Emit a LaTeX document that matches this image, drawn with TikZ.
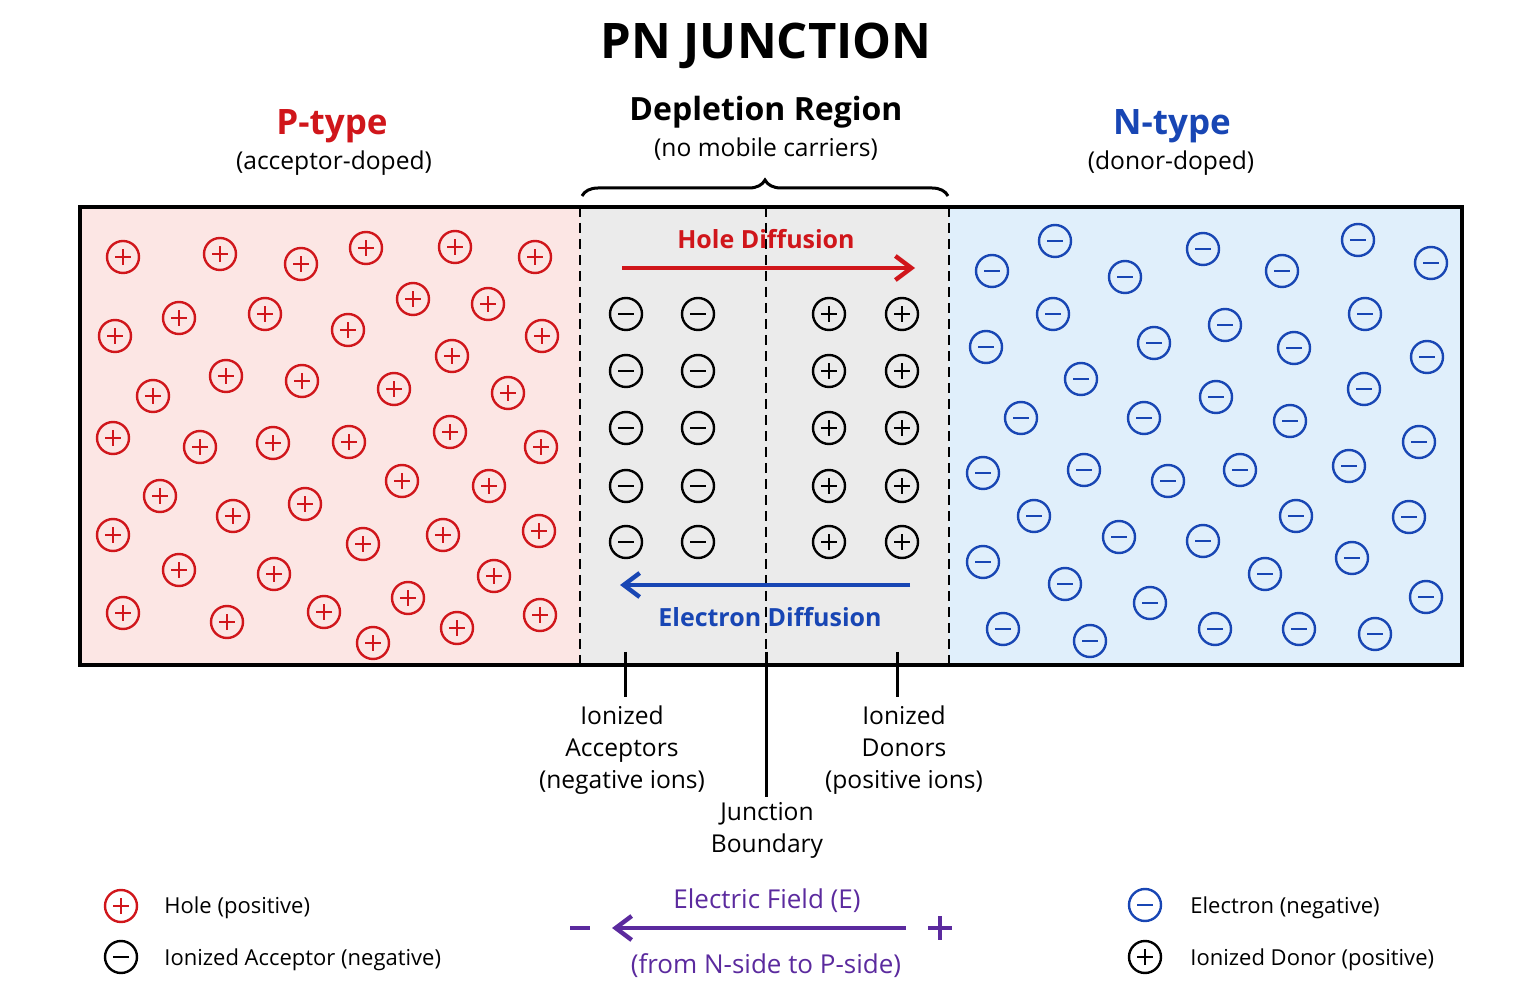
\documentclass[tikz,border=0pt]{standalone}
\usepackage{fontspec}
\setmainfont{Open Sans}
\usetikzlibrary{decorations.pathreplacing,arrows.meta}
\definecolor{pred}{HTML}{D0161B}
\definecolor{nblue}{HTML}{1846B4}
\definecolor{efp}{HTML}{5B2A9E}
\definecolor{pbg}{HTML}{FCE6E4}
\definecolor{nbg}{HTML}{E0EFFB}
\definecolor{dbg}{HTML}{EBEBEB}
\tikzset{
  x=0.5pt,y=-0.5pt,
  chg/.style={circle,draw=#1,line width=1.2pt,minimum size=16pt,inner sep=0pt},
  hole/.pic={\node[chg=pred]{}; \draw[pred,line width=1.4pt](-4pt,0)--(4pt,0)(0,-4pt)--(0,4pt);},
  elec/.pic={\node[chg=nblue]{}; \draw[nblue,line width=1.4pt](-4pt,0)--(4pt,0);},
  acc/.pic={\node[chg=black]{}; \draw[line width=1.4pt](-4pt,0)--(4pt,0);},
  don/.pic={\node[chg=black]{}; \draw[line width=1.4pt](-4pt,0)--(4pt,0)(0,-4pt)--(0,4pt);},
  lbl/.style={font=\fontsize{12.3}{16}\selectfont,align=center,inner sep=0pt},
  leg/.style={font=\fontsize{11}{14}\selectfont,anchor=west,inner sep=0pt},
}
\begin{document}
\begin{tikzpicture}
\useasboundingbox (0,0) rectangle (1536,1004);
\fill[pbg] (80,207) rectangle (580,665);
\fill[dbg] (580,207) rectangle (949,665);
\fill[nbg] (949,207) rectangle (1462,665);
\draw[line width=1.6pt] (80,207) rectangle (1462,665);
\draw[line width=1.3pt,dash pattern=on 5pt off 3pt] (580,207)--(580,665) (949,207)--(949,665) (766,207)--(766,652);
\node[font=\fontsize{24.5}{30}\selectfont\bfseries] (title) at (766,46) {PN JUNCTION};
\node[font=\fontsize{17.5}{22}\selectfont\bfseries,text=pred] (pt) at (332,126) {P-type};
\node[lbl] (ptd) at (334,163) {(acceptor-doped)};
\node[font=\fontsize{17.5}{22}\selectfont\bfseries,text=nblue] (nt) at (1172,126) {N-type};
\node[lbl] (ntd) at (1171,163) {(donor-doped)};
\node[font=\fontsize{16}{20}\selectfont\bfseries] (dr) at (766,112) {Depletion Region};
\node[lbl] (drd) at (766,149) {(no mobile carriers)};
\draw[line width=1.5pt,decorate,decoration={brace,amplitude=8pt}] (582,196)--(948,196);
\foreach \p in {(123,257),(220,254),(301,264),(366,248),(455,247),(535,257),
(413,299),(488,304),(179,318),(265,314),(348,330),(115,336),(542,336),
(452,356),(226,376),(302,381),(394,389),(153,396),(508,393),
(113,438),(200,447),(273,443),(349,442),(450,432),(541,447),
(402,481),(489,486),(160,496),(233,516),(305,504),
(113,535),(363,544),(443,535),(539,531),
(179,570),(274,574),(494,576),
(123,613),(227,622),(324,612),(408,598),(457,628),(540,615),(373,643)}
  \pic at \p {hole};
\foreach \p in {(1055,241),(1203,249),(1358,240),(992,271),(1125,277),(1282,271),(1431,263),
(1053,314),(1225,325),(1365,314),(986,347),(1154,343),(1294,348),(1427,357),
(1081,379),(1216,397),(1364,389),(1021,418),(1144,418),(1290,421),(1419,442),
(983,473),(1084,470),(1168,481),(1240,470),(1349,466),
(1034,516),(1119,537),(1203,541),(1296,516),(1409,517),
(983,562),(1065,584),(1265,574),(1352,558),(1150,603),(1426,597),
(1003,629),(1090,641),(1215,629),(1299,629),(1375,634)}
  \pic at \p {elec};
\foreach \y in {314,371,428,486,542}{
  \pic at (626,\y) {acc}; \pic at (698,\y) {acc};
  \pic at (829,\y) {don}; \pic at (902,\y) {don};}
\node[font=\fontsize{12.5}{16}\selectfont\bfseries,text=pred] (hd) at (766,239) {Hole Diffusion};
\coordinate (ha) at (622,268); \coordinate (hb) at (915,268);
\draw[pred,line width=2.2pt,-{Straight Barb[length=8pt,width=12pt]}] (ha)--(hb);
\coordinate (ea) at (910,585); \coordinate (eb) at (620,585);
\draw[nblue,line width=2.2pt,-{Straight Barb[length=8pt,width=12pt]}] (ea)--(eb);
\node[font=\fontsize{12.5}{16}\selectfont\bfseries,text=nblue] (ed) at (770,617) {Electron Diffusion};
\node[lbl,anchor=north] (ia) at (622,705) {Ionized\\Acceptors\\(negative ions)};
\node[lbl,anchor=north] (id) at (904,705) {Ionized\\Donors\\(positive ions)};
\node[lbl,anchor=north] (jb) at (767,802) {Junction\\Boundary};
\coordinate (la) at (625,652); \coordinate (ld) at (897,652); \coordinate (lj) at (766,652);
\draw[line width=1.5pt] (la)--(625,697) (ld)--(897,697) (lj)--(766,797);
\pic at (121,906) {hole}; \node[leg] (l1) at (164,908) {Hole (positive)};
\pic at (121,957) {acc}; \node[leg] (l2) at (164,960) {Ionized Acceptor (negative)};
\pic at (1145,905) {elec}; \node[leg] (l3) at (1190,908) {Electron (negative)};
\pic at (1145,957) {don}; \node[leg] (l4) at (1190,960) {Ionized Donor (positive)};
\node[font=\fontsize{13}{16}\selectfont,text=efp] (ef) at (767,901) {Electric Field (E)};
\node[font=\fontsize{13}{16}\selectfont,text=efp] (ef2) at (766,966) {(from N-side to P-side)};
\coordinate (fa) at (906,928); \coordinate (fb) at (612,928);
\draw[efp,line width=2.2pt,-{Straight Barb[length=8pt,width=12pt]}] (fa)--(fb);
\draw[efp,line width=2.2pt] (570,928)--(590,928) (928,928)--(952,928) (940,916)--(940,940);
\end{tikzpicture}
\end{document}
